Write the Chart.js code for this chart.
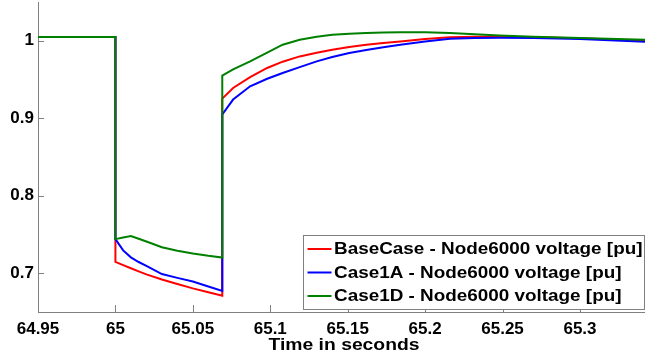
<!DOCTYPE html>
<html>
<head>
<meta charset="utf-8">
<style>
  html, body { margin: 0; padding: 0; background: #ffffff; }
  #wrap { width: 645px; height: 359px; position: relative; }
</style>
<script src="https://cdn.jsdelivr.net/npm/chart.js@4/dist/chart.umd.min.js"></script>
</head>
<body>
<div id="wrap"><canvas id="c"></canvas></div>
<script>
// Simulation time (s); repeated instants mark the fault-on and fault-clear steps
const timeSec = [
  64.95, 65.0, 65.0, 65.005, 65.01, 65.015, 65.02, 65.03, 65.04, 65.05, 65.06, 65.069,
  65.069, 65.076, 65.087, 65.098, 65.108, 65.119, 65.13, 65.14, 65.151, 65.162,
  65.173, 65.184, 65.2, 65.216, 65.232, 65.248, 65.27, 65.3, 65.342
];

// Node6000 voltage [pu]
const baseCase = [
  1.005, 1.005, 0.7147, 0.7105, 0.7065, 0.7025, 0.6985, 0.692, 0.6862, 0.6805, 0.6755, 0.6709,
  0.9254, 0.9391, 0.953, 0.9649, 0.973, 0.9798, 0.9845, 0.9884, 0.992, 0.9949,
  0.9972, 0.9991, 1.0022, 1.0045, 1.0052, 1.0051, 1.0045, 1.0032, 1.0
];
const case1A = [
  1.005, 1.005, 0.744, 0.7295, 0.7205, 0.7145, 0.7095, 0.699, 0.694, 0.6894, 0.683, 0.6773,
  0.9048, 0.9241, 0.9412, 0.951, 0.9584, 0.966, 0.9734, 0.979, 0.9842, 0.988,
  0.9915, 0.9949, 0.999, 1.0026, 1.0035, 1.0039, 1.0035, 1.0022, 0.9987
];
const case1D = [
  1.005, 1.005, 0.744, 0.746, 0.748, 0.7445, 0.741, 0.7335, 0.729, 0.7255, 0.7225, 0.7203,
  0.955, 0.963, 0.9734, 0.9846, 0.9949, 1.0013, 1.0051, 1.0077, 1.009, 1.0099,
  1.0107, 1.011, 1.011, 1.0099, 1.0084, 1.0068, 1.0051, 1.0035, 1.0013
];

const seriesNames = [
  'BaseCase - Node6000 voltage [pu]',
  'Case1A - Node6000 voltage [pu]',
  'Case1D - Node6000 voltage [pu]'
];
const seriesColors = ['#ff0000', '#0000ff', '#008000'];
const xTitle = 'Time in seconds';

const xTicks = [64.95, 65, 65.05, 65.1, 65.15, 65.2, 65.25, 65.3];
const yTicks = [0.7, 0.8, 0.9, 1];

const FONT = 'Liberation Sans, Arial, Helvetica, sans-serif';
const AXIS_GREY = '#808080';

const toPoints = vals => vals.map((v, i) => ({ x: timeSec[i], y: v }));

// Text drawn with a slight horizontal stretch (wide bold face)
function wideText(ctx, text, x, y, targetWidth, align) {
  const w = ctx.measureText(text).width;
  const sx = targetWidth / w;
  ctx.save();
  ctx.translate(x, y);
  ctx.scale(sx, 1);
  ctx.textAlign = align;
  ctx.fillText(text, 0, 0);
  ctx.restore();
}

// Inward tick marks on the left and bottom axes
const innerTicks = {
  id: 'innerTicks',
  beforeDatasetsDraw(chart) {
    const { ctx, chartArea, scales } = chart;
    ctx.save();
    ctx.strokeStyle = AXIS_GREY;
    ctx.lineWidth = 1;
    ctx.beginPath();
    xTicks.forEach(v => {
      const px = Math.round(scales.x.getPixelForValue(v)) + 0.5;
      ctx.moveTo(px, chartArea.bottom);
      ctx.lineTo(px, chartArea.bottom - 7);
    });
    yTicks.forEach(v => {
      const py = Math.round(scales.y.getPixelForValue(v)) + 0.5;
      ctx.moveTo(chartArea.left, py);
      ctx.lineTo(chartArea.left + 6, py);
    });
    ctx.stroke();
    ctx.restore();
  }
};

// Axis title plus boxed legend in the lower right of the plot area
const annotations = {
  id: 'annotations',
  afterDraw(chart) {
    const { ctx, chartArea } = chart;
    ctx.save();
    ctx.fillStyle = '#000000';
    ctx.font = 'bold 16px ' + FONT;
    ctx.textBaseline = 'alphabetic';
    wideText(ctx, xTitle, chartArea.left + 306, 349.5, 151, 'center');

    const right = chartArea.right - 1;
    const bottom = chartArea.bottom - 3;
    const width = 341, height = 74;
    const left = right - width, top = bottom - height;
    ctx.fillStyle = '#ffffff';
    ctx.fillRect(left, top, width, height);
    ctx.strokeStyle = AXIS_GREY;
    ctx.lineWidth = 1;
    ctx.strokeRect(Math.round(left) + 0.5, Math.round(top) + 0.5, width, height);
    ctx.font = 'bold 16px ' + FONT;
    ctx.textBaseline = 'middle';
    seriesNames.forEach((name, i) => {
      const y = top + 14 + i * 23.5;
      ctx.strokeStyle = seriesColors[i];
      ctx.lineWidth = 2;
      ctx.beginPath();
      ctx.moveTo(left + 4.5, y);
      ctx.lineTo(left + 28.5, y);
      ctx.stroke();
      ctx.fillStyle = '#000000';
      const w = ctx.measureText(name).width;
      wideText(ctx, name, left + 31, y + 1, w * 1.18, 'left');
    });
    ctx.restore();
  }
};

const fmt = v => String(Math.round(v * 100) / 100);

new Chart(document.getElementById('c'), {
  type: 'line',
  data: {
    datasets: [
      { label: seriesNames[0], data: toPoints(baseCase), borderColor: seriesColors[0], order: 2 },
      { label: seriesNames[1], data: toPoints(case1A), borderColor: seriesColors[1], order: 1 },
      { label: seriesNames[2], data: toPoints(case1D), borderColor: seriesColors[2], order: 0 }
    ]
  },
  options: {
    responsive: true,
    maintainAspectRatio: false,
    animation: false,
    devicePixelRatio: 1,
    layout: { padding: { top: 2, left: 0, right: 0, bottom: 0 } },
    elements: {
      line: { borderWidth: 2, tension: 0, fill: false },
      point: { radius: 0, hoverRadius: 0 }
    },
    plugins: {
      legend: { display: false },
      tooltip: { enabled: false }
    },
    scales: {
      x: {
        type: 'linear',
        min: 64.95,
        max: 65.342,
        afterBuildTicks: s => { s.ticks = xTicks.map(v => ({ value: v })); },
        afterFit: s => {
          s.height = 47;
          s.paddingLeft = 0; s.paddingRight = 0;
        },
        grid: { display: false, drawTicks: false },
        border: { display: true, color: AXIS_GREY, width: 1 },
        ticks: {
          autoSkip: false, maxRotation: 0, padding: 7,
          color: '#000000',
          font: { family: FONT, size: 17, weight: 'bold' },
          callback: v => fmt(v)
        }
      },
      y: {
        type: 'linear',
        min: 0.65,
        max: 1.05,
        afterBuildTicks: s => { s.ticks = yTicks.map(v => ({ value: v })); },
        afterFit: s => {
          s.width = 38;
          s.paddingTop = 0; s.paddingBottom = 0;
        },
        grid: { display: false, drawTicks: false },
        border: { display: true, color: AXIS_GREY, width: 1 },
        ticks: {
          padding: 4,
          color: '#000000',
          font: { family: FONT, size: 17, weight: 'bold' },
          callback: v => fmt(v)
        }
      }
    }
  },
  plugins: [innerTicks, annotations]
});
</script>
</body>
</html>
